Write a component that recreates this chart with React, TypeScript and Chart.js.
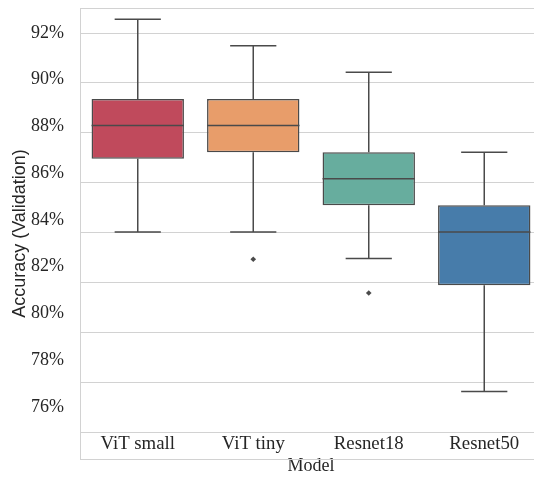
import React, { useEffect, useRef } from 'react';
import { Chart, registerables } from 'chart.js';

Chart.register(...registerables);

// Validation accuracy (%) per model, summarised as box plots
const models = ['ViT small', 'ViT tiny', 'Resnet18', 'Resnet50'];
const whiskerLow = [84.04, 84.04, 82.98, 77.66];
const quartile1 = [86.97, 87.23, 85.11, 81.91];
const medians = [88.3, 88.3, 86.17, 84.04];
const quartile3 = [89.36, 89.36, 87.23, 85.11];
const whiskerHigh = [92.55, 91.49, 90.43, 87.23];
const outliers: (number | null)[] = [null, 82.95, 81.6, null];

const boxColors = ['#c04a5c', '#e89d6a', '#67ad9e', '#477caa'];

// horizontal grid positions and the percentage labels of the left axis
const gridValues = [76, 78, 80, 82, 84, 86, 88, 90, 92];
const labelValues = [76, 78, 80, 82, 84, 86, 88, 90, 92];

const Y_MIN = 74.96;
const Y_MAX = 93;
const LABEL_MIN = 73.775;
const LABEL_MAX = 93.07;

const EDGE = '#4a4a4a';
const GRID = '#d2d2d2';
const TEXT = '#262626';
const SERIF = '"Liberation Serif", "Times New Roman", serif';
const SANS = '"Liberation Sans", Arial, sans-serif';

// scales keep exactly the box the layout gives them: no extra label margins
const noMargins = (s: any) => {
  s.paddingTop = 0;
  s.paddingBottom = 0;
  s.paddingLeft = 0;
  s.paddingRight = 0;
};

const boxWhiskers = {
  id: 'boxWhiskers',
  beforeDatasetsDraw(chart: any) {
    const { ctx } = chart;
    const x = chart.scales.x;
    const y = chart.scales.y;
    const bars = chart.getDatasetMeta(0).data;
    ctx.save();
    ctx.strokeStyle = EDGE;
    ctx.lineWidth = 1.5;
    models.forEach((_, i) => {
      const cx = x.getPixelForValue(i);
      const half = (bars[i]?.width ?? 90) / 4;
      const yLow = y.getPixelForValue(whiskerLow[i]);
      const yHigh = y.getPixelForValue(whiskerHigh[i]);
      const yQ1 = y.getPixelForValue(quartile1[i]);
      const yQ3 = y.getPixelForValue(quartile3[i]);
      ctx.beginPath();
      ctx.moveTo(cx, yHigh);
      ctx.lineTo(cx, yQ3);
      ctx.moveTo(cx, yQ1);
      ctx.lineTo(cx, yLow);
      ctx.moveTo(cx - half, yHigh);
      ctx.lineTo(cx + half, yHigh);
      ctx.moveTo(cx - half, yLow);
      ctx.lineTo(cx + half, yLow);
      ctx.stroke();
    });
    ctx.restore();
  },
  afterDatasetsDraw(chart: any) {
    const { ctx } = chart;
    const y = chart.scales.y;
    const bars = chart.getDatasetMeta(0).data;
    ctx.save();
    ctx.strokeStyle = EDGE;
    ctx.lineWidth = 1.5;
    models.forEach((_, i) => {
      const bar = bars[i];
      if (!bar) return;
      const ym = y.getPixelForValue(medians[i]);
      ctx.beginPath();
      ctx.moveTo(bar.x - bar.width / 2, ym);
      ctx.lineTo(bar.x + bar.width / 2, ym);
      ctx.stroke();
    });
    ctx.restore();
  },
};

export default function App() {
  const canvasRef = useRef<HTMLCanvasElement>(null);

  useEffect(() => {
    if (!canvasRef.current) return;
    const chart = new Chart(canvasRef.current, {
      type: 'bar',
      data: {
        labels: models,
        datasets: [
          {
            type: 'bar',
            data: models.map((_, i) => [quartile1[i], quartile3[i]]) as any,
            backgroundColor: boxColors,
            borderColor: EDGE,
            borderWidth: 1.5,
            borderSkipped: false,
            barPercentage: 0.8,
            categoryPercentage: 1,
            xAxisID: 'x',
            yAxisID: 'y',
          } as any,
          {
            type: 'line',
            data: outliers as any,
            showLine: false,
            pointStyle: 'rectRot',
            pointRadius: 2.8,
            pointBackgroundColor: EDGE,
            pointBorderColor: EDGE,
            pointBorderWidth: 0,
            xAxisID: 'x',
            yAxisID: 'y',
          } as any,
        ],
      },
      options: {
        responsive: false,
        animation: false,
        devicePixelRatio: 1,
        layout: { padding: { top: 8, right: 3, left: 0, bottom: 0 } },
        plugins: {
          legend: { display: false },
          tooltip: { enabled: false },
        },
        scales: {
          x: {
            type: 'category',
            offset: true,
            grid: { display: false, drawTicks: false },
            border: { display: true, color: GRID, width: 1 },
            ticks: {
              padding: -26,
              color: TEXT,
              font: { family: SERIF, size: 18.8, lineHeight: 1.2 },
              maxRotation: 0,
              autoSkip: false,
            },
            title: {
              display: true,
              text: 'Model',
              color: TEXT,
              font: { family: SERIF, size: 18, lineHeight: 1.2 },
              padding: { top: 0, bottom: 0 },
            },
            afterFit: (s: any) => {
              s.height = 18;
              noMargins(s);
              // category names sit just above the bottom frame line
              s._computeLabelArea = () => undefined;
            },
          },
          y: {
            type: 'linear',
            position: 'left',
            weight: 0,
            min: Y_MIN,
            max: Y_MAX,
            grid: { color: GRID, lineWidth: 1, drawTicks: false },
            border: { display: true, color: GRID, width: 1 },
            ticks: { display: false },
            afterBuildTicks: (s: any) => {
              s.ticks = [Y_MIN, ...gridValues, Y_MAX].map((v) => ({ value: v }));
            },
            afterFit: (s: any) => {
              s.width = 0;
              noMargins(s);
            },
          },
          y2: {
            type: 'linear',
            position: 'left',
            weight: 1,
            min: LABEL_MIN,
            max: LABEL_MAX,
            grid: { display: false, drawTicks: false },
            border: { display: false },
            ticks: {
              padding: 16,
              color: TEXT,
              font: { family: SERIF, size: 18 },
              callback: (v: any) => `${v}%`,
            },
            afterBuildTicks: (s: any) => {
              s.ticks = labelValues.map((v) => ({ value: v }));
            },
            title: {
              display: true,
              text: 'Accuracy (Validation)',
              color: TEXT,
              font: { family: SANS, size: 18, lineHeight: 1.2 },
              padding: { top: 9, bottom: 0 },
            },
            afterFit: (s: any) => {
              s.width = 80;
              noMargins(s);
            },
          },
        },
      },
      plugins: [boxWhiskers],
    });
    return () => chart.destroy();
  }, []);

  return (
    <div
      style={{
        position: 'fixed',
        left: 0,
        top: 0,
        width: 534,
        height: 477,
        overflow: 'hidden',
        background: '#ffffff',
      }}
    >
      <canvas ref={canvasRef} width={546} height={477} style={{ display: 'block' }} />
    </div>
  );
}
